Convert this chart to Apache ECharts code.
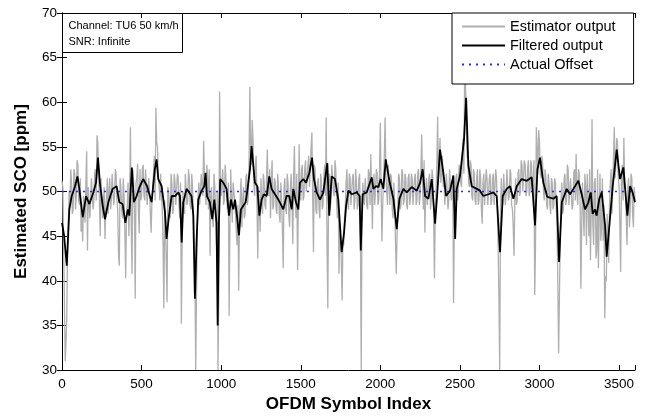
<!DOCTYPE html>
<html>
<head>
<meta charset="utf-8">
<script src="https://cdn.jsdelivr.net/npm/echarts@6/dist/echarts.min.js"></script>
<style>html,body{margin:0;padding:0;background:#fff;}#c{width:646px;height:418px;}</style>
</head>
<body>
<div id="c"></div>
<script>
// Estimator output at symbols 0,10,20,...,3600
var estimatorAtTens = [
51.2,44.0,31.0,35.8,46.5,48.5,51.0,48.0,52.0,49.5,
53.0,48.5,45.5,44.4,48.0,51.0,43.4,50.5,47.0,51.5,
49.0,52.5,56.3,52.0,45.0,51.5,47.0,44.7,49.5,47.5,
51.5,49.0,52.0,49.5,52.0,48.0,41.7,50.5,47.0,49.5,
40.3,48.5,45.0,57.2,40.8,51.0,38.0,51.5,48.0,52.5,
49.5,53.0,49.0,52.5,48.5,50.0,45.4,50.5,54.0,59.4,
55.0,50.5,52.0,48.0,36.9,46.0,37.6,50.0,47.0,51.0,
48.0,51.0,48.5,51.5,47.0,35.2,50.0,47.5,52.0,49.0,
51.5,48.0,50.5,44.0,30.0,46.0,51.0,48.5,52.0,55.7,
50.0,53.0,48.0,42.8,50.5,46.0,50.5,44.0,30.0,61.2,
49.5,52.5,49.0,51.5,48.0,36.1,52.5,46.5,50.0,47.5,
44.0,38.9,49.5,46.0,50.5,47.5,52.0,49.5,61.7,53.0,
56.0,49.5,54.0,42.5,48.0,51.5,47.5,51.0,48.0,54.7,
49.5,47.0,53.5,48.5,51.0,47.5,50.5,46.5,49.0,41.4,
51.5,47.5,51.0,46.0,52.0,44.1,55.1,47.0,41.2,55.3,
49.0,53.0,49.5,53.5,50.0,54.0,50.5,56.6,43.2,52.5,
47.5,51.5,47.0,51.0,48.5,53.0,58.3,36.9,52.0,49.0,
53.0,49.5,52.5,47.0,40.8,46.0,37.8,44.0,48.5,52.5,
48.0,51.5,48.5,52.0,49.0,51.0,48.5,52.0,30.0,51.0,
48.5,51.5,48.0,52.0,54.2,45.8,52.0,48.5,52.0,49.0,
57.7,44.4,51.5,58.3,50.0,53.0,48.5,51.5,47.0,49.0,
40.8,48.5,51.5,48.5,52.0,49.0,51.5,48.0,52.0,49.5,
51.5,48.5,52.0,49.0,52.5,49.5,56.4,48.0,45.4,51.5,
48.5,52.0,49.0,51.5,40.3,50.0,58.4,53.5,51.0,54.0,
51.5,48.5,52.0,49.0,52.5,49.5,37.5,48.0,52.0,50.0,
53.0,50.5,56.0,64.0,59.0,53.5,50.5,53.0,49.0,52.0,
48.5,52.5,49.0,51.5,46.4,52.0,48.5,51.5,48.5,52.0,
49.0,52.0,48.5,51.5,44.0,30.0,51.5,48.5,52.0,49.5,
52.5,49.5,52.0,48.0,42.8,51.5,49.0,52.5,50.0,53.0,
50.0,53.0,50.0,53.5,50.0,53.0,50.5,38.4,57.2,52.0,
55.5,51.5,53.0,49.0,51.5,48.0,51.0,47.5,51.0,48.5,
51.0,46.0,31.9,44.5,51.0,48.0,52.0,49.0,52.5,48.5,
51.5,48.5,52.5,54.2,48.5,52.0,39.1,51.0,45.0,50.5,
52.0,45.0,42.3,58.1,44.0,51.5,43.5,41.4,52.0,46.0,
44.5,35.8,40.0,45.0,48.5,52.5,50.0,57.2,53.0,55.5,
50.5,41.0,53.0,56.0,50.0,44.0,51.5,48.0,51.5,46.0,
49.0
];
// Estimator output at symbols 5,15,25,...,3595
var estimatorAtFives = [
50.5,38.0,33.0,44.0,50.0,52.5,47.5,52.5,48.0,53.5,
49.0,51.5,47.0,49.5,46.5,54.5,50.5,47.0,51.5,48.0,
52.0,49.0,55.5,49.0,51.5,47.0,50.5,48.0,51.5,50.0,
48.0,52.0,48.5,52.5,49.0,43.0,51.5,48.0,51.5,45.5,
47.5,51.0,49.5,46.0,52.5,48.0,51.0,53.1,45.3,49.0,
52.5,49.5,52.5,48.5,51.5,47.5,49.0,52.0,49.0,55.5,
51.5,49.0,49.5,44.0,49.0,42.0,50.5,48.0,52.0,47.5,
52.0,48.5,52.0,48.5,51.0,45.0,48.0,52.0,48.5,52.5,
48.5,52.0,47.5,41.0,38.5,49.5,48.5,52.0,49.5,51.5,
48.5,51.5,52.5,49.5,47.0,52.0,47.5,50.0,38.0,52.5,
50.5,48.5,53.0,49.0,51.0,46.0,49.0,51.0,49.0,45.5,
48.5,47.0,51.5,49.0,47.0,51.5,48.5,53.0,55.0,58.0,
51.0,53.0,48.5,50.5,45.5,49.0,52.0,48.5,51.5,50.0,
52.5,51.0,48.0,51.5,48.0,52.0,47.5,51.0,45.5,50.5,
48.0,52.0,47.5,50.5,49.0,51.5,49.5,52.0,48.5,49.5,
52.5,49.0,52.5,50.0,53.0,50.5,55.0,49.5,53.0,48.0,
51.0,48.0,52.0,48.0,51.5,49.5,44.0,50.0,48.0,53.0,
50.0,53.5,49.0,51.0,46.5,42.0,44.5,47.0,51.0,49.0,
52.0,48.5,51.5,48.0,52.5,48.0,51.5,44.7,48.5,49.0,
51.5,48.5,52.5,48.5,50.0,50.5,48.5,52.5,48.5,52.5,
50.0,48.5,54.0,52.0,48.5,51.0,52.0,48.0,51.0,44.5,
45.0,52.0,48.0,52.5,48.5,52.0,48.5,51.5,48.5,52.0,
48.5,51.5,48.5,52.0,48.5,52.5,51.0,53.5,50.0,48.5,
51.5,48.0,52.5,47.0,47.5,53.0,51.0,56.0,52.0,50.5,
48.5,52.0,48.0,52.5,49.0,51.5,46.5,51.5,49.0,53.0,
51.0,54.0,52.0,62.0,54.0,51.0,53.5,49.5,52.5,49.0,
51.5,48.5,52.5,48.0,51.0,48.5,52.5,48.5,51.5,48.5,
51.5,48.5,52.5,48.0,38.0,48.0,49.0,52.0,48.5,52.5,
49.0,52.5,48.5,46.0,49.0,48.5,52.0,49.5,53.5,50.0,
53.5,49.5,52.5,49.5,53.5,50.0,53.5,44.0,54.5,56.9,
52.0,54.0,50.0,52.5,48.5,52.0,48.5,51.5,48.0,51.5,
48.5,40.0,38.0,49.0,47.5,51.5,48.5,53.0,48.5,51.5,
48.0,52.0,49.0,50.0,52.5,49.0,46.0,48.0,52.0,44.0,
49.0,52.5,48.0,46.5,51.0,42.5,52.5,47.0,44.5,51.5,
48.5,40.5,47.5,42.0,51.0,47.5,54.0,51.5,56.0,51.5,
46.0,52.0,49.0,51.0,47.0,50.5,46.0,52.0,47.5,50.5
];

// Filtered output (symbol index, value)
var filteredX = [0,13,30,46,61,82,97,109,130,151,172,197,214,226,239,256,270,291,318,343,360,381,398,414,423,439,452,469,485,510,535,563,583,594,605,626,647,657,672,689,710,731,741,752,762,783,814,825,835,846,856,877,894,902,911,929,944,957,971,978,986,994,1013,1034,1049,1061,1076,1087,1099,1112,1124,1139,1154,1166,1181,1191,1204,1212,1227,1240,1254,1269,1286,1302,1317,1338,1359,1380,1390,1411,1428,1443,1453,1470,1485,1495,1516,1533,1554,1571,1583,1600,1621,1642,1658,1667,1679,1694,1715,1736,1757,1772,1785,1799,1820,1852,1870,1877,1889,1914,1946,1956,1973,1988,2002,2019,2034,2057,2082,2103,2120,2145,2166,2197,2229,2250,2266,2281,2302,2323,2344,2358,2375,2396,2413,2438,2459,2470,2480,2501,2526,2539,2553,2574,2606,2626,2647,2679,2710,2731,2752,2769,2794,2815,2836,2857,2888,2920,2951,2962,2972,2987,3003,3024,3049,3087,3108,3123,3140,3171,3192,3213,3244,3265,3286,3307,3322,3334,3349,3359,3376,3391,3412,3422,3439,3460,3485,3506,3527,3552,3569,3585,3600];
var filteredY = [46.5,45.1,41.7,48.0,49.5,50.6,51.7,50.3,47.1,49.5,48.6,49.9,51.0,53.8,50.8,48.4,46.9,48.8,50.3,50.6,48.8,48.6,46.5,48.0,47.3,52.7,48.8,49.5,50.4,51.4,50.6,48.8,52.5,53.6,51.4,50.6,47.7,44.7,47.3,49.5,49.5,49.9,49.5,44.3,48.8,50.3,49.5,47.3,38.0,44.7,49.1,50.1,50.6,52.1,49.5,48.8,46.9,49.1,46.5,35.0,46.5,51.4,51.0,50.3,47.3,49.1,48.0,49.1,47.3,45.1,48.0,48.4,48.8,50.3,52.5,55.1,52.5,51.0,50.6,47.3,49.1,49.7,49.5,51.7,50.3,49.7,49.1,48.4,48.0,49.5,49.5,48.0,50.3,48.8,48.0,51.0,51.4,51.0,52.1,53.8,51.4,49.9,49.1,49.9,52.1,53.2,47.3,51.7,51.4,49.1,43.2,45.4,48.4,50.1,49.7,49.9,49.5,43.4,49.7,49.9,51.6,50.3,50.6,50.5,51.4,50.3,53.6,51.2,49.2,45.8,49.2,50.3,49.9,50.5,50.1,51.0,52.5,49.5,49.2,51.4,46.4,49.9,54.7,52.1,49.5,50.1,51.8,44.7,50.3,51.8,55.9,60.5,52.9,50.6,50.3,50.1,49.5,49.7,49.9,49.5,43.2,49.5,50.3,50.6,49.2,50.6,51.4,51.2,51.6,51.4,46.2,52.5,53.8,51.0,49.4,49.2,49.5,42.1,48.8,50.3,49.7,50.3,51.2,49.7,48.0,48.8,49.9,47.5,48.0,47.3,49.2,49.9,46.2,42.7,46.2,50.6,54.7,51.4,52.7,47.3,50.6,49.9,48.8];

var actualOffset = 50;
var xMin = 0, xMax = 3600, xInterval = 500;
var yMin = 30, yMax = 70, yInterval = 5;
var seriesNames = ['Estimator output', 'Filtered output', 'Actual Offset'];
var annotationLines = ['Channel: TU6 50 km/h', 'SNR: Infinite'];

var estData = [];
estimatorAtTens.forEach(function (v, i) {
  estData.push([i * 10, v]);
  if (i < estimatorAtFives.length) estData.push([i * 10 + 5, estimatorAtFives[i]]);
});
var filtData = filteredX.map(function (x, i) { return [x, filteredY[i]]; });
var offData = [[xMin, actualOffset], [xMax, actualOffset]];

var FONT = 'Liberation Sans';
var chart = echarts.init(document.getElementById('c'), null, { renderer: 'canvas' });
var axisLineStyle = { color: '#000', width: 1 };
chart.setOption({
  animation: false,
  backgroundColor: '#fff',
  textStyle: { fontFamily: FONT },
  grid: { left: 62, right: 11, top: 13, bottom: 46, containLabel: false },
  legend: {
    data: seriesNames,
    orient: 'vertical',
    left: 452, top: 13,
    backgroundColor: '#fff',
    borderColor: '#000', borderWidth: 1, borderRadius: 0,
    padding: [6, 18, 12, 9],
    itemGap: 4, itemWidth: 43, itemHeight: 14,
    itemStyle: { opacity: 0 },
    textStyle: { fontFamily: FONT, fontSize: 14.5, color: '#000' },
    selectedMode: false
  },
  xAxis: [{
    type: 'value', min: xMin, max: xMax, interval: xInterval,
    position: 'bottom',
    name: 'OFDM Symbol Index', nameLocation: 'middle', nameGap: 25,
    nameTextStyle: { fontFamily: FONT, fontSize: 17, fontWeight: 'bold', color: '#000' },
    axisLine: { show: true, lineStyle: axisLineStyle },
    axisTick: { show: true, inside: true, length: 5, lineStyle: axisLineStyle },
    axisLabel: { fontFamily: FONT, fontSize: 13.5, color: '#000', margin: 7,
      formatter: function (v) { return v > 3500 ? '' : String(v); } },
    splitLine: { show: false }
  }, {
    type: 'value', min: xMin, max: xMax, interval: xInterval,
    position: 'top',
    axisLine: { show: true, lineStyle: axisLineStyle },
    axisTick: { show: true, inside: true, length: 5, lineStyle: axisLineStyle },
    axisLabel: { show: false },
    splitLine: { show: false }
  }],
  yAxis: [{
    type: 'value', min: yMin, max: yMax, interval: yInterval,
    position: 'left',
    name: 'Estimated SCO [ppm]', nameLocation: 'middle', nameGap: 32, nameRotate: 90,
    nameTextStyle: { fontFamily: FONT, fontSize: 17, fontWeight: 'bold', color: '#000' },
    axisLine: { show: true, lineStyle: axisLineStyle },
    axisTick: { show: true, inside: true, length: 5, lineStyle: axisLineStyle },
    axisLabel: { fontFamily: FONT, fontSize: 13.5, color: '#000', margin: 5 },
    splitLine: { show: false }
  }, {
    type: 'value', min: yMin, max: yMax, interval: yInterval,
    position: 'right',
    axisLine: { show: true, lineStyle: axisLineStyle },
    axisTick: { show: true, inside: true, length: 5, lineStyle: axisLineStyle },
    axisLabel: { show: false },
    splitLine: { show: false }
  }],
  series: [{
    name: seriesNames[0], type: 'line', data: estData,
    xAxisIndex: 0, yAxisIndex: 0,
    symbol: 'none', clip: true,
    lineStyle: { color: '#afafaf', width: 1.3 },
    itemStyle: { color: '#afafaf' }, z: 2
  }, {
    name: seriesNames[2], type: 'line', data: offData,
    xAxisIndex: 0, yAxisIndex: 0,
    symbol: 'none', clip: true,
    lineStyle: { color: '#2a2aff', width: 1.6, type: [2, 5] },
    itemStyle: { color: '#2a2aff' }, z: 3
  }, {
    name: seriesNames[1], type: 'line', data: filtData,
    xAxisIndex: 0, yAxisIndex: 0,
    symbol: 'none', clip: true,
    lineStyle: { color: '#000', width: 1.8 },
    itemStyle: { color: '#000' }, z: 4
  }],
  graphic: [{
    type: 'group', left: 62, top: 13, z: 100,
    children: [{
      type: 'rect', shape: { x: 0, y: 0, width: 120, height: 39 },
      style: { fill: '#fff', stroke: '#000', lineWidth: 1 }
    }, {
      type: 'text', x: 6, y: 4,
      style: { text: annotationLines.join('\n'), fontFamily: FONT, fontSize: 11, lineHeight: 16, fill: '#000' }
    }]
  }]
});
</script>
</body>
</html>
